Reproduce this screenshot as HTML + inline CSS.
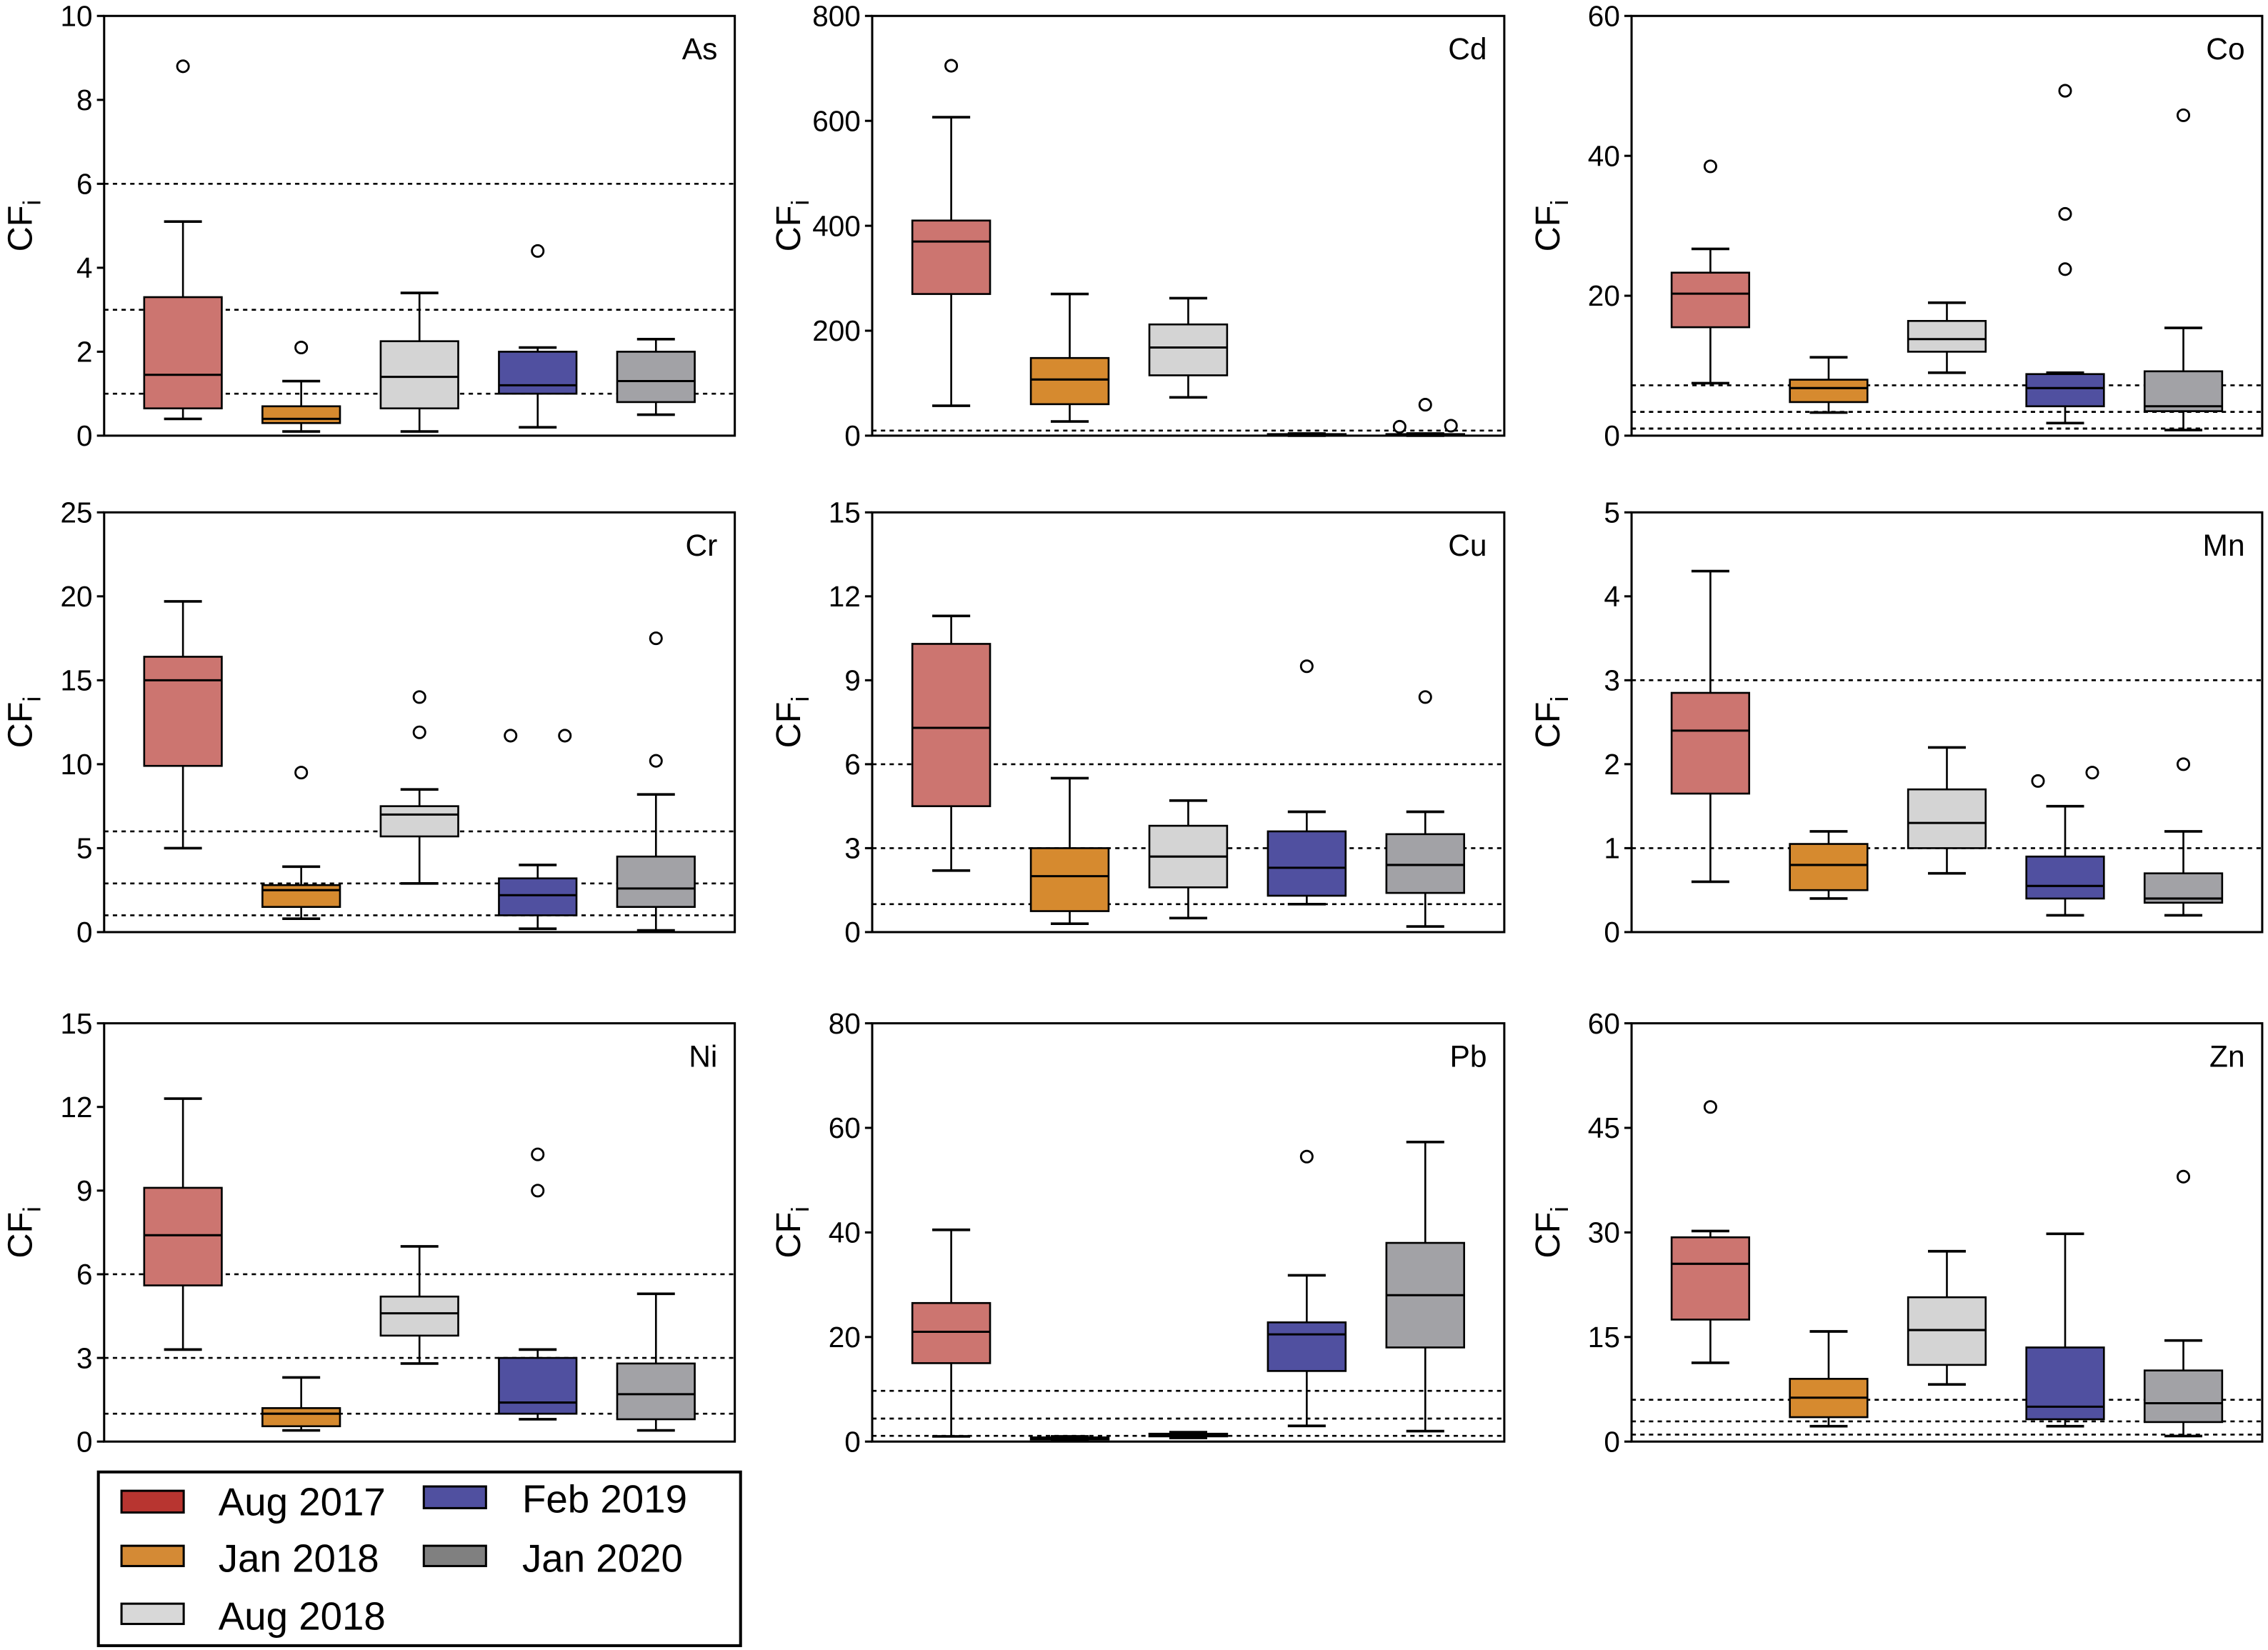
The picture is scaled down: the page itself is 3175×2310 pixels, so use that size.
<!DOCTYPE html>
<html><head><meta charset="utf-8"><style>
html,body{margin:0;padding:0;background:#fff;}
svg{display:block;font-family:"Liberation Sans",Arial,sans-serif;}
</style></head><body>
<svg id="chart" width="3175" height="2310" viewBox="0 0 1568 1140" preserveAspectRatio="none" xmlns="http://www.w3.org/2000/svg">
<g id="panels"></g>
<g id="legend">
  <rect x="68" y="1017" width="444" height="120" fill="#fff" stroke="#000" stroke-width="2"/>
  <rect x="84" y="1030" width="43" height="15" fill="#b83530" stroke="#000" stroke-width="1.5"/>
  <text x="151" y="1047" font-size="27">Aug 2017</text>
  <rect x="84" y="1068" width="43" height="14" fill="#d48a35" stroke="#000" stroke-width="1.5"/>
  <text x="151" y="1086" font-size="27">Jan 2018</text>
  <rect x="84" y="1108" width="43" height="14" fill="#d8d8d8" stroke="#000" stroke-width="1.5"/>
  <text x="151" y="1126" font-size="27">Aug 2018</text>
  <rect x="293" y="1027" width="43" height="15" fill="#5050a0" stroke="#000" stroke-width="1.5"/>
  <text x="361" y="1045" font-size="27">Feb 2019</text>
  <rect x="293" y="1068" width="43" height="14" fill="#808080" stroke="#000" stroke-width="1.5"/>
  <text x="361" y="1086" font-size="27">Jan 2020</text>
</g>
</svg>
<script>
const categories = ["Aug 2017","Jan 2018","Aug 2018","Feb 2019","Jan 2020"];
const fills = ["#cc7570","#d68a2f","#d4d4d4","#5050a0","#a2a2a6"];
const elements = ["As","Cd","Co","Cr","Cu","Mn","Ni","Pb","Zn"];
const yMax = [10,800,60,25,15,5,15,80,60];
const yTicks = [[0,2,4,6,8,10],[0,200,400,600,800],[0,20,40,60],[0,5,10,15,20,25],[0,3,6,9,12,15],[0,1,2,3,4,5],[0,3,6,9,12,15],[0,20,40,60,80],[0,15,30,45,60]];
// box stats per element: [whiskerLow, q1, median, q3, whiskerHigh] per category
const statsAs = [[0.4,0.65,1.45,3.3,5.1],[0.1,0.3,0.4,0.7,1.3],[0.1,0.65,1.4,2.25,3.4],[0.2,1.0,1.2,2.0,2.1],[0.5,0.8,1.3,2.0,2.3]];
const statsCd = [[57,270,370,410,607],[27,60,107,148,270],[73,115,168,212,262],[0,1,2,3,4],[0,1,2,3,4]];
const statsCo = [[7.5,15.5,20.3,23.3,26.7],[3.3,4.8,6.8,8,11.2],[9,12,13.8,16.4,19],[1.8,4.2,6.8,8.8,9],[0.8,3.5,4.2,9.2,15.4]];
const statsCr = [[5,9.9,15,16.4,19.7],[0.8,1.5,2.5,2.8,3.9],[2.9,5.7,7,7.5,8.5],[0.2,1,2.2,3.2,4],[0.1,1.5,2.6,4.5,8.2]];
const statsCu = [[2.2,4.5,7.3,10.3,11.3],[0.3,0.75,2,3,5.5],[0.5,1.6,2.7,3.8,4.7],[1,1.3,2.3,3.6,4.3],[0.2,1.4,2.4,3.5,4.3]];
const statsMn = [[0.6,1.65,2.4,2.85,4.3],[0.4,0.5,0.8,1.05,1.2],[0.7,1,1.3,1.7,2.2],[0.2,0.4,0.55,0.9,1.5],[0.2,0.35,0.4,0.7,1.2]];
const statsNi = [[3.3,5.6,7.4,9.1,12.3],[0.4,0.55,1,1.2,2.3],[2.8,3.8,4.6,5.2,7],[0.8,1,1.4,3,3.3],[0.4,0.8,1.7,2.8,5.3]];
const statsPb = [[1,15,21,26.5,40.5],[0.2,0.4,0.6,0.8,1],[0.7,1,1.2,1.5,1.8],[3,13.5,20.5,22.8,31.8],[2,18,28,38,57.3]];
const statsZn = [[11.3,17.5,25.5,29.3,30.2],[2.2,3.5,6.3,9,15.8],[8.2,11,16,20.7,27.3],[2.2,3.2,5,13.5,29.8],[0.8,2.8,5.5,10.2,14.5]];
const allStats = [statsAs,statsCd,statsCo,statsCr,statsCu,statsMn,statsNi,statsPb,statsZn];
// outliers: [categoryIndex, value, slot offset in box widths]
const outAs = [[0,8.8,0],[1,2.1,0],[3,4.4,0]];
const outCd = [[0,705,0],[4,17,-0.33],[4,59,0],[4,19,0.33]];
const outCo = [[0,38.5,0],[3,23.8,0],[3,31.7,0],[3,49.3,0],[4,45.8,0]];
const outCr = [[1,9.5,0],[2,11.9,0],[2,14,0],[3,11.7,-0.35],[3,11.7,0.35],[4,10.2,0],[4,17.5,0]];
const outCu = [[3,9.5,0],[4,8.4,0]];
const outMn = [[3,1.8,-0.35],[3,1.9,0.35],[4,2.0,0]];
const outNi = [[3,9,0],[3,10.3,0]];
const outPb = [[3,54.5,0]];
const outZn = [[0,48,0],[4,38,0]];
const allOut = [outAs,outCd,outCo,outCr,outCu,outMn,outNi,outPb,outZn];
const refAs=[1,3,6], refCd=[9.6], refCo=[1,3.4,7.2], refCr=[1,2.9,6], refCu=[1,3,6], refMn=[1,3,6], refNi=[1,3,6], refPb=[1.1,4.4,9.7], refZn=[1,2.9,6];
const allRef=[refAs,refCd,refCo,refCr,refCu,refMn,refNi,refPb,refZn];

const NS="http://www.w3.org/2000/svg";
const colL=[72,603,1128], colR=[508,1040,1564];
const titleX=[22,553,1078];
const rowT=[11,354,707], rowB=[301,644,996];
const root=document.getElementById('panels');
function mk(tag,attrs,parent){const e=document.createElementNS(NS,tag);for(const k in attrs)e.setAttribute(k,attrs[k]);parent.appendChild(e);return e;}

elements.forEach((el,p)=>{
  const c=p%3, r=Math.floor(p/3);
  const L=colL[c], R=colR[c], T=rowT[r], B=rowB[r];
  const panelW=R-L, panelH=B-T;
  const g=mk('g',{},root);
  
  
  const y=v=>B-v/yMax[p]*panelH;
  const x=i=>L+panelW*(0.125+0.1875*i);
  const bw=panelW*0.123, cw=panelW*0.06;
  const fr=mk('rect',{x:L,y:T,width:panelW,height:panelH,fill:'none',stroke:'#000','stroke-width':1.5},g);
  
  
  yTicks[p].forEach(t=>{
    mk('line',{x1:L-5,x2:L,y1:y(t),y2:y(t),stroke:'#000','stroke-width':1.5},g);
    const tx=mk('text',{x:L-8,y:y(t)+7,'font-size':20,'text-anchor':'end'},g);
    tx.textContent=t;
    
    
  });
  const yl=mk('text',{transform:`translate(${titleX[c]},${T+panelH/2}) rotate(-90)`,'font-size':24,'text-anchor':'middle'},g);
  yl.innerHTML='CF<tspan font-size="17" dy="6">i</tspan>';
  
  
  const lb=mk('text',{x:R-12,y:T+30,'font-size':21,'text-anchor':'end'},g);
  lb.textContent=el;
  
  
  allRef[p].forEach(rv=>{
    const ln=mk('line',{x1:L,x2:R,y1:y(rv),y2:y(rv),stroke:'#000','stroke-width':1.3,'stroke-dasharray':'3,3'},g);
    
    
  });
  allStats[p].forEach((s,i)=>{
    const cx=x(i);
    const bg=mk('g',{},g);
    
    
    mk('line',{x1:cx,x2:cx,y1:y(s[0]),y2:y(s[1]),stroke:'#000','stroke-width':1.3},bg);
    mk('line',{x1:cx,x2:cx,y1:y(s[3]),y2:y(s[4]),stroke:'#000','stroke-width':1.3},bg);
    mk('line',{x1:cx-cw/2,x2:cx+cw/2,y1:y(s[0]),y2:y(s[0]),stroke:'#000','stroke-width':1.8},bg);
    mk('line',{x1:cx-cw/2,x2:cx+cw/2,y1:y(s[4]),y2:y(s[4]),stroke:'#000','stroke-width':1.8},bg);
    mk('rect',{x:cx-bw/2,y:y(s[3]),width:bw,height:Math.max(0.5,y(s[1])-y(s[3])),fill:fills[i],stroke:'#000','stroke-width':1.3},bg);
    mk('line',{x1:cx-bw/2,x2:cx+bw/2,y1:y(s[2]),y2:y(s[2]),stroke:'#000','stroke-width':1.5},bg);
  });
  allOut[p].forEach(o=>{
    const ci=mk('circle',{cx:x(o[0])+o[2]*bw,cy:y(o[1]),r:4,fill:'#fff',stroke:'#000','stroke-width':1.4},g);
    
    
  });
});
</script>
</body></html>
